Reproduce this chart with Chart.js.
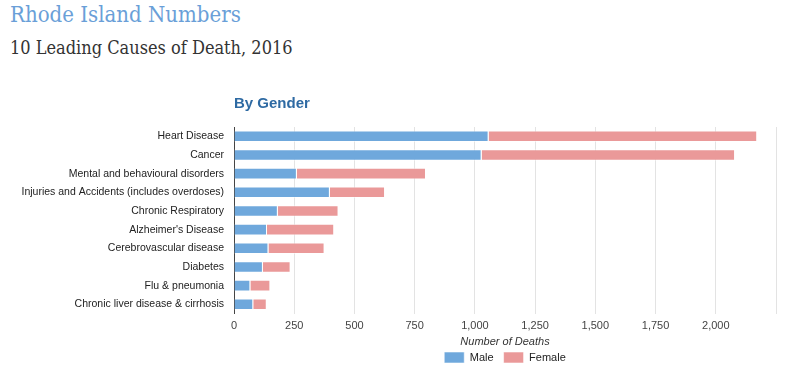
<!DOCTYPE html>
<html>
<head>
<meta charset="utf-8">
<script src="https://cdn.jsdelivr.net/npm/chart.js@4"></script>
<style>
  body { margin: 0; background: #fff; width: 801px; height: 391px; overflow: hidden; position: relative; }
  h1 { position: absolute; left: 10px; top: 2px; margin: 0; font: 400 22px "DejaVu Serif Condensed", "DejaVu Serif", serif; color: #6a9fd8; }
  h2 { position: absolute; left: 10px; top: 37px; margin: 0; font: 400 18px "DejaVu Serif Condensed", "DejaVu Serif", serif; color: #333; }
  #wrap { position: absolute; left: 0; top: 0; width: 801px; height: 391px; }
</style>
</head>
<body>
<h1>Rhode Island Numbers</h1>
<h2>10 Leading Causes of Death, 2016</h2>
<div id="wrap"><canvas id="myChart"></canvas></div>
<script>
// Причины смерти
let causes = ['Heart Disease', 'Cancer', 'Mental and behavioural disorders', 'Injuries and Accidents (includes overdoses)',
  'Chronic Respiratory', "Alzheimer's Disease", 'Cerebrovascular disease', 'Diabetes', 'Flu & pneumonia',
  'Chronic liver disease & cirrhosis'];
let male = [1057, 1028, 261, 398, 182, 137, 143, 120, 68, 80];
let female = [1115, 1052, 536, 229, 252, 279, 233, 115, 83, 56];
let xTicks = [0, 250, 500, 750, 1000, 1250, 1500, 1750, 2000];

// Заголовок над областью графика
const chartTitle = {
  id: 'chartTitle',
  afterDraw(chart) {
    let ctx = chart.ctx;
    ctx.save();
    ctx.font = 'bold 15px Arial, "Liberation Sans", sans-serif';
    ctx.fillStyle = '#2e6aa3';
    ctx.textBaseline = 'alphabetic';
    ctx.fillText('By Gender', chart.chartArea.left, 108);
    ctx.restore();
  }
};

let ctx = document.getElementById('myChart').getContext('2d');
let myChart = new Chart(ctx, {
  type: 'bar',
  data: {
    labels: causes,
    datasets: [{
      label: 'Male',
      data: male,
      backgroundColor: '#6fa8dc',
      borderColor: 'rgba(255,255,255,0.55)',
      borderWidth: 1
    }, {
      label: 'Female',
      data: female,
      backgroundColor: '#ea9999',
      borderColor: 'rgba(255,255,255,0.55)',
      borderWidth: 1
    }]
  },
  options: {
    indexAxis: 'y',
    responsive: true,
    maintainAspectRatio: false,
    animation: false,
    datasets: { bar: { barPercentage: 0.62, categoryPercentage: 1 } },
    layout: { padding: { top: 127, right: 25, bottom: 18, left: 0 } },
    scales: {
      x: {
        stacked: true,
        min: 0,
        max: 2250,
        afterBuildTicks: (scale) => {
          scale.ticks = xTicks.concat([2250]).map(v => ({ value: v }));
        },
        ticks: {
          callback: (v) => xTicks.includes(v) ? v.toLocaleString('en-US') : '',
          color: '#444',
          font: { family: 'Arial, "Liberation Sans", sans-serif', size: 11 },
          padding: 6,
          maxRotation: 0
        },
        grid: { color: '#e3e3e3', lineWidth: 1, drawTicks: false },
        border: { display: false },
        title: {
          display: true,
          text: 'Number of Deaths',
          color: '#333',
          font: { family: 'Arial, "Liberation Sans", sans-serif', size: 11, style: 'italic' },
          padding: { top: -3, bottom: -7 }
        }
      },
      y: {
        stacked: true,
        afterFit: (scale) => { scale.width = 234; },
        ticks: {
          color: '#222',
          font: { family: 'Arial, "Liberation Sans", sans-serif', size: 10.5 },
          padding: 10,
          autoSkip: false
        },
        grid: { display: false, drawTicks: false },
        border: { display: true, color: '#444', width: 1 }
      }
    },
    plugins: {
      legend: {
        position: 'bottom',
        fullSize: false,
        labels: {
          boxWidth: 20,
          boxHeight: 11,
          color: '#222',
          font: { family: 'Arial, "Liberation Sans", sans-serif', size: 11 },
          padding: 10
        }
      },
      tooltip: { enabled: false }
    }
  },
  plugins: [chartTitle]
});
</script>
</body>
</html>
